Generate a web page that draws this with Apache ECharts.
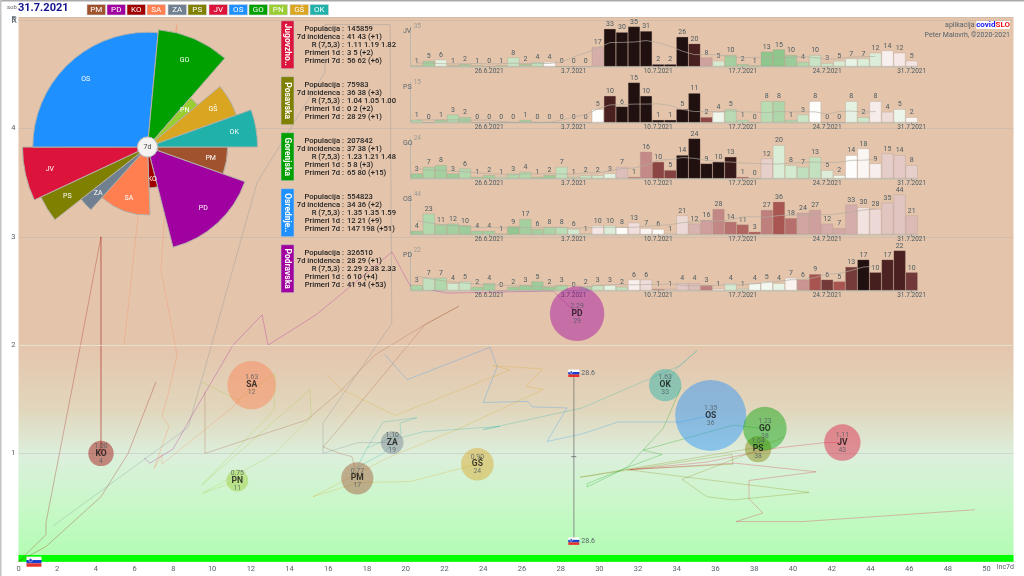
<!DOCTYPE html>
<html><head><meta charset="utf-8">
<script src="https://cdn.jsdelivr.net/npm/echarts@6/dist/echarts.min.js"></script>
<style>html,body{margin:0;padding:0;background:#fff}#main{width:1024px;height:576px}</style>
</head><body><div id="main"></div>
<script>
// ---------- data ----------
const regionCodes = ['PM','PD','KO','SA','ZA','PS','JV','OS','GO','PN','GŠ','OK'];
const regionColors = ['#a0522d','#a0009f','#a00000','#ff7f50','#708090','#808000','#dc143c','#1e90ff','#00a000','#9acd32','#daa520','#20b2aa'];
const populations = [114000,326510,70700,257000,57000,75983,145859,554823,207842,52800,117000,115000];
const incidence = [17,29,4,12,19,38,43,36,38,11,24,33];
const bubbleX = [17.5,28.85,4.26,12.04,19.3,38.2,42.55,35.75,38.55,11.3,23.7,33.4];
const bubbleR = [0.77,2.29,1.00,1.63,1.10,1.04,1.10,1.35,1.23,0.75,0.90,1.63];
const bubbleRText = ['0.77','2.29','1.00','1.63','1.10','1.04','1.11','1.35','1.23','0.75','0.90','1.63'];

const trailPM = [[9.63,1.57],[9.63,1.00],[14.9,1.31],[16.6,1.57],[18.41,1.91],[21.0,2.19],[22.75,2.36],[21.0,2.19],[16.6,1.24],[15.73,1.06],[16.6,1.00],[17.22,0.97],[17.53,0.76]];
const trailPD = [[6.48,0.96],[6.79,0.91],[7.98,1.04],[8.96,1.35],[11.08,2.00],[12.58,2.28],[12.89,2.00],[15.37,2.28],[19.29,2.86],[20.22,2.55],[22.13,2.48],[27.61,2.50],[28.85,2.29]];
const trailKO = [[7.10,1.66],[5.66,1.00],[4.26,0.60],[1.42,0.14],[0,0],[1.42,0.25],[1.42,0.36],[3.18,1.98],[4.26,3.00],[4.26,1.00]];
const trailKOlast = [[4.26,3.00],[4.26,1.00]];
const trailSA = [[5.45,2.0],[6.17,3.18],[8.19,4.96],[7.46,2.97],[7.36,2.69],[8.19,1.91],[7.72,1.54],[7.41,1.35],[7.77,1.25],[7.0,0.86],[7.41,0.99],[7.41,0.90],[11.08,1.43],[12.04,1.63]];
const trailZA = [[1.78,0.33],[8.76,1.24],[9.89,1.95],[12.32,3.50],[15.83,4.52],[15.83,4.96],[19.19,4.96],[19.28,2.20],[15.73,1.28],[15.73,1.00],[17.53,1.10],[19.3,1.10]];
const trailPS = [[39.54,1.15],[38.3,1.06],[29.0,0.78],[36.85,0.99],[36.9,0.90],[31.43,0.85],[40.83,0.64],[36.9,0.57],[35.56,0.60],[34.27,0.76],[38.15,1.03]];
const trailJV = [[49.4,0.48],[40.47,0.37],[37.06,0.37],[38.45,0.45],[37.73,0.58],[37.73,0.75],[41.2,0.83],[37.0,0.91],[31.58,0.85],[35.56,0.92],[39.18,1.05],[41.66,1.10],[42.56,1.10]];
const trailOS = [[18.93,1.91],[20.07,1.68],[24.35,1.98],[24.72,1.80],[24.0,1.47],[26.32,1.48],[26.52,1.43],[28.33,1.42],[27.3,1.11],[29.1,1.18],[30.96,1.29],[34.17,1.29],[35.75,1.35]];
const trailGO = [[34.22,1.61],[33.29,1.23],[31.43,0.87],[29.37,0.69],[29.37,0.72],[31.43,0.87],[33.24,0.99],[32.26,1.03],[36.9,1.26],[37.42,1.25],[38.53,1.23]];
const trailPN = [[9.48,1.66],[11.34,1.49],[13.25,1.74],[13.2,1.40],[9.48,0.71],[15.06,1.59],[15.11,1.33],[13.25,1.0],[9.48,0.63],[11.34,0.75]];
const trailGS = [[15.98,1.72],[16.6,1.60],[19.45,1.35],[25.39,1.77],[24.51,1.81],[27.09,1.78],[26.21,1.62],[27.09,1.59],[22.65,1.22],[19.19,0.97],[15.21,0.60],[17.54,0.73],[20.22,0.74],[23.68,0.90]];
const trailOK = [[18.0,1.05],[18.83,1.29],[20.58,1.33],[19.7,1.28],[19.76,1.18],[18.0,1.05],[17.48,0.87],[18.83,1.0],[19.6,1.14],[20.9,1.2],[24.87,1.25],[24.0,1.22],[29.1,1.42],[34.17,1.81],[35.05,1.95],[34.01,1.79],[33.4,1.62]];
const sloPoints = [[28.68,1.74],[28.68,0.97],[28.68,0.19]];
const sloFlagsTop = [[28.68,1.74],[28.68,0.19]];
const sloFlagAxis = [[0.8,0]];
const sloLabel = '28.6';

const dayLabels = ['20.6.2021','21.6.2021','22.6.2021','23.6.2021','24.6.2021','25.6.2021','26.6.2021','27.6.2021','28.6.2021','29.6.2021','30.6.2021','1.7.2021','2.7.2021','3.7.2021','4.7.2021','5.7.2021','6.7.2021','7.7.2021','8.7.2021','9.7.2021','10.7.2021','11.7.2021','12.7.2021','13.7.2021','14.7.2021','15.7.2021','16.7.2021','17.7.2021','18.7.2021','19.7.2021','20.7.2021','21.7.2021','22.7.2021','23.7.2021','24.7.2021','25.7.2021','26.7.2021','27.7.2021','28.7.2021','29.7.2021','30.7.2021','31.7.2021'];

const casesJV = [1,5,6,1,2,1,0,1,8,2,4,4,0,0,0,17,33,30,35,31,2,2,26,20,8,5,10,2,1,13,15,10,4,10,3,5,7,7,12,14,12,5];
const casesPS = [1,0,1,3,2,0,0,0,0,1,0,0,0,0,0,5,10,6,15,10,1,1,5,11,2,4,5,1,0,8,8,1,3,8,0,0,8,2,8,4,5,2];
const casesGO = [3,7,8,3,6,1,2,1,3,4,1,2,7,1,2,2,3,7,1,16,10,5,14,24,9,10,13,1,0,12,20,8,7,13,5,2,14,18,9,15,14,8];
const casesOS = [4,23,11,12,10,4,4,1,9,17,6,8,8,6,1,10,10,8,13,7,6,1,21,12,16,28,14,11,3,27,36,18,24,27,12,7,33,30,28,35,44,21];
const casesPD = [3,7,7,4,5,2,4,0,2,3,5,2,3,0,2,3,3,2,6,6,1,1,4,4,3,1,4,1,4,5,4,7,6,9,6,5,13,17,10,17,22,10];

const trendJV = [3,3,2.5,2.3,2.3,2.7,2.1,2.6,2.9,2.7,2.7,2.6,3.9,8.3,12,16.4,20.9,21.1,21.4,22.7,20.9,17.7,13.4,10.4,10.4,10.3,8.4,7.7,8,7.9,7.9,8,8.6,7.7,6.6,6.9,8.3,8.6,8.9];
const trendPS = [1,1,1,1,0.9,0.9,0.9,0.4,0.1,0.1,0.1,0.1,0.9,2.1,3,5.1,6.6,6.7,6.9,6.9,7,6.4,4.9,4.1,4.1,4,4.4,4,3.9,3.7,4.1,4,4,4,3.1,4.1,4.3,3.9,4.1];
const trendGO = [6,5,5,4.3,4,3.4,2.9,2.6,2,2.9,2.7,2.9,2.7,2.6,3.4,3.3,4.6,5.9,6.3,8,11,11.3,12.6,12.1,10.9,10.1,9.9,9.3,9.1,8.7,8.7,9.3,9.6,9.9,9.6,9.7,10.9,11,11.4];
const trendOS = [15,13,11,9.7,9.3,7.3,8.1,7.3,7,7.6,7.9,7.9,8,7,7.3,8,7.9,7.9,7.9,9.4,9.7,10.9,13,14,14.7,15,15.9,19.3,19.6,19,20.9,21,21.6,22.4,21.6,23,24.6,27,28.3];
const trendPD = [8,6.5,5.5,4.6,4.1,3.4,2.9,3,2.6,2.7,2.1,2.4,2.6,2.6,2.1,2.7,3.1,3.3,3.1,3.3,3.4,3.6,2.9,2.6,2.6,3,3.1,3.1,3.7,4.4,5.1,5.9,6,7.1,9,9.4,11,12.9,13.4];

// 7-day growth ratio of the first 13 days (their history lies outside the chart)
const earlyRJV = [.6,.5,.9,.5,.5,.5,.5,.5,.75,.5,.7,1,1];
const earlyRPS = [.6,.6,.5,.6,.5,.5,.5,.5,.5,.5,.5,.5,.5];
const earlyRGO = [.45,.55,.5,.45,.6,.5,.5,.7,.6,.6,.5,.45,.7];
const earlyROS = [.45,.6,.5,.5,.45,.5,.5,.5,.4,.5,.5,.55,.65];
const earlyRPD = [.55,.7,.6,.8,.75,.5,.5,.5,.45,.45,.45,.45,.55];

const panelCodes = ['JV','PS','GO','OS','PD'];
const panelNames = ['Jugovzho..','Posavska','Gorenjska','Osrednje..','Podravska'];
const panelColors = ['#dc143c','#808000','#00a000','#1e90ff','#a0009f'];
const panelMax = [35,15,24,44,22];
const panelCases = [casesJV,casesPS,casesGO,casesOS,casesPD];
const panelTrend = [trendJV,trendPS,trendGO,trendOS,trendPD];
const panelEarly = [earlyRJV,earlyRPS,earlyRGO,earlyROS,earlyRPD];
const infoLabels = ['Populacija','7d incidenca','R (7,5,3)','Primeri 1d','Primeri 7d'];
const infoJV = ['145859','41 43 (+1)','1.11 1.19 1.82','3 5 (+2)','56 62 (+6)'];
const infoPS = ['75983','36 38 (+3)','1.04 1.05 1.00','0 2 (+2)','28 29 (+1)'];
const infoGO = ['207842','37 38 (+1)','1.23 1.21 1.48','5 8 (+3)','65 80 (+15)'];
const infoOS = ['554823','34 36 (+2)','1.35 1.35 1.59','12 21 (+9)','147 198 (+51)'];
const infoPD = ['326510','28 29 (+1)','2.29 2.38 2.33','6 10 (+4)','41 94 (+53)'];
const panelInfo = [infoJV,infoPS,infoGO,infoOS,infoPD];
const trails = [trailPM,trailPD,trailKO,trailSA,trailZA,trailPS,trailJV,trailOS,trailGO,trailPN,trailGS,trailOK];

// ---------- drawing ----------
const FONT = 'Roboto, sans-serif';
const chart = echarts.init(document.getElementById('main'), null, {renderer:'canvas'});
const colorStops = [[0.3,[130,192,130]],[0.5,[164,208,160]],[0.75,[200,228,196]],[0.9,[228,242,226]],[1.0,[253,253,251]],[1.1,[244,230,228]],[1.3,[224,196,192]],[1.6,[196,138,136]],[2.0,[168,84,80]],[2.3,[112,56,56]],[2.5,[74,32,32]],[2.85,[32,16,16]]];
function ratioColor(r){
  if(r<=colorStops[0][0]) return 'rgb('+colorStops[0][1].join(',')+')';
  for(let i=1;i<colorStops.length;i++){
    if(r<=colorStops[i][0]){
      const a=colorStops[i-1],b=colorStops[i],t=(r-a[0])/(b[0]-a[0]);
      return 'rgb('+a[1].map((v,k)=>Math.round(v+(b[1][k]-v)*t)).join(',')+')';
    }
  }
  return 'rgb(32,16,16)';
}
function weekRatio(vals,early,i){
  if(i<13) return early[i];
  let s=0,p=0;
  for(let k=0;k<7;k++){s+=vals[i-k];p+=vals[i-7-k];}
  if(p===0) return s>0?5:1;
  return s/p;
}
function withAlpha(hex,a){
  const n=parseInt(hex.slice(1),16);
  return 'rgba('+(n>>16)+','+((n>>8)&255)+','+(n&255)+','+a+')';
}

const total = populations.reduce((a,b)=>a+b,0);
let acc = 0;
const sectorData = regionCodes.map((c,i)=>{const d=[Math.sqrt(incidence[i]),acc,acc+populations[i]];acc+=populations[i];return d;});

const grids = [{left:18.5,right:10.5,top:17,bottom:14.3,show:true,borderWidth:0,
  backgroundColor:new echarts.graphic.LinearGradient(0,0,0,1,[
    {offset:0,color:'#e4c4ab'},{offset:0.60,color:'#e4c5ac'},{offset:0.72,color:'#e1d6bc'},{offset:0.805,color:'#dcefdc'},{offset:0.9,color:'#c8f8c8'},{offset:1,color:'#b0fcb0'}])}];
const xAxes = [{type:'value',gridIndex:0,min:0,max:51.39,interval:2,
  axisLine:{show:false},axisTick:{show:false},splitLine:{show:false},
  axisLabel:{fontFamily:FONT,fontSize:7.5,color:'#56626a',margin:3,showMaxLabel:false}}];
const yAxes = [{type:'value',gridIndex:0,min:0,max:5.03,interval:1,
  axisLine:{show:false},axisTick:{show:false},
  splitLine:{show:true,lineStyle:{color:'rgba(170,170,170,0.3)',width:1}},
  axisLabel:{fontFamily:FONT,fontSize:7.5,color:'#56626a',margin:3,showMaxLabel:false,showMinLabel:false}}];
const series = [];

// trails
trails.forEach((t,i)=>series.push({name:'trail '+regionCodes[i],type:'line',xAxisIndex:0,yAxisIndex:0,data:t,symbol:'none',silent:true,z:2,
  lineStyle:{color:regionColors[i],width:0.9,opacity:0.3}}));
series.push({name:'trail KO last',type:'line',xAxisIndex:0,yAxisIndex:0,data:trailKOlast,symbol:'none',silent:true,z:2,lineStyle:{color:regionColors[2],width:2,opacity:0.15}});

// Slovenia marker line + the green zero band + the lighter R=2 line
series.push({name:'SLO',type:'line',xAxisIndex:0,yAxisIndex:0,silent:true,z:3,
  data:sloPoints.map((p,i)=>i===1?{value:p,symbol:'rect',symbolSize:[5,1]}:{value:p,symbol:'none'}),
  itemStyle:{color:'#777'},lineStyle:{color:'rgba(120,120,120,0.5)',width:1.6},
  markLine:{silent:true,symbol:'none',label:{show:false},lineStyle:{color:'rgba(232,228,208,0.9)',width:1,type:'solid'},data:[{yAxis:2}]},
  markArea:{silent:true,itemStyle:{color:'#00ff00',opacity:1},data:[[{yAxis:0},{yAxis:0.062}]]}});
function flagRender(w,h,withText){
  return function(params,api){
    const p=api.coord([api.value(0),api.value(1)]);
    const x=p[0]-w/2,y=p[1]-h/2,b=h/3;
    const kids=[
      {type:'rect',shape:{x:x,y:y,width:w,height:b},style:{fill:'#ffffff'}},
      {type:'rect',shape:{x:x,y:y+b,width:w,height:b},style:{fill:'#1a3fd0'}},
      {type:'rect',shape:{x:x,y:y+2*b,width:w,height:b},style:{fill:'#e8302a'}},
      {type:'circle',shape:{cx:x+w*0.27,cy:y+h*0.36,r:h*0.17},style:{fill:'#2040c0',stroke:'#fff',lineWidth:0.5}}];
    if(withText) kids.push({type:'text',style:{x:x+w+2,y:p[1],text:sloLabel,fontFamily:FONT,fontSize:7,fill:'#56626a',verticalAlign:'middle'}});
    return {type:'group',children:kids};
  };
}
series.push({name:'SLO flags',type:'custom',xAxisIndex:0,yAxisIndex:0,coordinateSystem:'cartesian2d',data:sloFlagsTop,silent:true,z:6,clip:false,renderItem:flagRender(11,7.5,true)});
series.push({name:'SLO flag axis',type:'custom',xAxisIndex:0,yAxisIndex:0,coordinateSystem:'cartesian2d',data:sloFlagAxis,silent:true,z:6,clip:false,renderItem:flagRender(15,10,false)});

// bubbles
series.push({name:'regions',type:'scatter',xAxisIndex:0,yAxisIndex:0,z:4,silent:true,
  data:regionCodes.map((c,i)=>({value:[bubbleX[i],bubbleR[i]],name:c,
    symbolSize:2*0.0477*Math.sqrt(populations[i]),
    itemStyle:{color:withAlpha(regionColors[i],0.55)},
    label:{show:true,position:'inside',
      formatter:'{a|'+bubbleRText[i]+'}\n{b|'+c+'}\n{a|'+incidence[i]+'}',
      rich:{a:{fontFamily:FONT,fontSize:6.8,color:'#4c5a60',lineHeight:7.4,align:'center'},
            b:{fontFamily:FONT,fontSize:8.5,fontWeight:'bold',color:'#111',lineHeight:7.4,align:'center'}}}}))});

// rose of regions: angle = population, radius = sqrt(incidence)
const polar = {center:[147.5,147],radius:[4.2,125]};
const angleAxis = {type:'value',min:0,max:total,startAngle:0,clockwise:true,show:false};
const radiusAxis = {type:'value',min:0,max:Math.sqrt(43),show:false};
series.push({name:'rose',type:'custom',coordinateSystem:'polar',data:sectorData,silent:true,z:10,clip:false,
  encode:{radius:0,angle:1},
  renderItem:function(params,api){
    const cs=params.coordSys, c0=api.coord([api.value(0),api.value(1)]);
    const r=Math.hypot(c0[0]-cs.cx,c0[1]-cs.cy);
    const a0=2*Math.PI*api.value(1)/total, a1=2*Math.PI*api.value(2)/total, m=(a0+a1)/2;
    return {type:'group',children:[
      {type:'sector',shape:{cx:cs.cx,cy:cs.cy,r0:10,r:r,startAngle:a0,endAngle:a1,clockwise:true},
        style:{fill:regionColors[params.dataIndex],stroke:'#b4b0a8',lineWidth:1}},
      {type:'text',style:{x:cs.cx+0.8*r*Math.cos(m),y:cs.cy+0.8*r*Math.sin(m),text:regionCodes[params.dataIndex],
        fontFamily:FONT,fontSize:7,fill:'#fff',align:'center',verticalAlign:'middle'}}]};
  }});

// five case panels
panelCodes.forEach((code,k)=>{
  const g=k+1, vals=panelCases[k], early=panelEarly[k];
  grids.push({left:410.7,width:507,top:26.5+56*k,height:40,show:false});
  xAxes.push({type:'category',gridIndex:g,data:dayLabels,boundaryGap:true,
    axisLine:{show:true,lineStyle:{color:'#c8c2b4',width:1.5}},
    axisTick:{show:true,length:2,alignWithLabel:true,interval:(i)=>i%7===6,lineStyle:{color:'#888'}},
    axisLabel:{show:true,interval:(i)=>i%7===6,fontFamily:FONT,fontSize:6.5,color:'#4c5a60',margin:1.5,hideOverlap:false}});
  yAxes.push({type:'value',gridIndex:g,min:0,max:panelMax[k],
    axisLine:{show:true,lineStyle:{color:'#bdb7ab',width:1}},axisTick:{show:false},splitLine:{show:false},
    axisLabel:{show:true,inside:true,customValues:[panelMax[k]],fontFamily:FONT,fontSize:6.5,color:'#9a9a94',margin:3}});
  series.push({name:'primeri '+code,type:'bar',xAxisIndex:g,yAxisIndex:g,barCategoryGap:'0%',z:3,silent:true,
    data:vals.map((v,i)=>({value:v,itemStyle:{color:ratioColor(weekRatio(vals,early,i)),borderColor:'rgba(150,130,120,0.35)',borderWidth:0.6}})),
    label:{show:true,position:'top',distance:1,fontFamily:FONT,fontSize:7,color:'#4c5a60'}});
  series.push({name:'povprečje '+code,type:'line',xAxisIndex:g,yAxisIndex:g,data:panelTrend[k],symbol:'none',z:4,silent:true,
    lineStyle:{color:'rgba(178,172,160,0.65)',width:1}});
});

// text and chips
const gr = [];
const Z = 50;
gr.push({type:'rect',z:Z,silent:true,shape:{x:0,y:0,width:1024,height:1.5},style:{fill:'#aaaaaa'}});
gr.push({type:'rect',z:Z,silent:true,shape:{x:0,y:0,width:1.5,height:576},style:{fill:'#c4c4c4'}});
gr.push({type:'text',z:Z,silent:true,x:7,y:4,style:{text:'sob',fontFamily:FONT,fontSize:6,fill:'#666'}});
gr.push({type:'text',z:Z,silent:true,x:18,y:3,style:{text:'31.7.2021',fontFamily:FONT,fontSize:11,fontWeight:'bold',fill:'#14148c',shadowColor:'#6a80e0',shadowBlur:2}});
const chipX=[87,107,127,147,168,188,209,229,249,269,290,310];
regionCodes.forEach((c,i)=>{
  gr.push({type:'rect',z:Z,silent:true,shape:{x:chipX[i],y:4.5,width:18.5,height:10.5},style:{fill:regionColors[i],stroke:'#d4d4d4',lineWidth:0.6}});
  gr.push({type:'text',z:Z+1,silent:true,x:chipX[i]+9.25,y:10,style:{text:c,fontFamily:FONT,fontSize:8,fill:'#fff',align:'center',verticalAlign:'middle'}});
});
gr.push({type:'circle',z:Z,silent:true,shape:{cx:147.5,cy:147,r:10},style:{fill:'#f4f3f1',stroke:'#bdbdbd',lineWidth:1}});
gr.push({type:'text',z:Z+1,silent:true,x:147.5,y:147,style:{text:'7d',fontFamily:FONT,fontSize:7,fill:'#444',align:'center',verticalAlign:'middle'}});
panelCodes.forEach((code,k)=>{
  const top=20.7+56*k;
  gr.push({type:'rect',z:Z,silent:true,shape:{x:281,y:top,width:13,height:48},style:{fill:panelColors[k],stroke:'#c8c8c8',lineWidth:0.6}});
  gr.push({type:'text',z:Z+1,silent:true,x:287.5,y:top+24,rotation:-Math.PI/2,style:{text:panelNames[k],fontFamily:FONT,fontSize:8.5,fontWeight:'bold',fill:'#fff',align:'center',verticalAlign:'middle'}});
  infoLabels.forEach((lab,r)=>{
    const y=29.3+56*k+8*r;
    gr.push({type:'text',z:Z,silent:true,x:340,y:y,style:{text:lab,fontFamily:FONT,fontSize:7.6,fontWeight:500,fill:'#222',align:'right',verticalAlign:'middle'}});
    gr.push({type:'text',z:Z,silent:true,x:342,y:y,style:{text:':',fontFamily:FONT,fontSize:7.6,fontWeight:500,fill:'#222',verticalAlign:'middle'}});
    gr.push({type:'text',z:Z,silent:true,x:347,y:y,style:{text:panelInfo[k][r],fontFamily:FONT,fontSize:7.6,fontWeight:500,fill:'#222',verticalAlign:'middle'}});
  });
  gr.push({type:'text',z:Z,silent:true,x:403,y:31+56*k,style:{text:code,fontFamily:FONT,fontSize:7,fill:'#5a666c',verticalAlign:'middle'}});
});
gr.push({type:'text',z:Z,silent:true,x:1010,y:25,style:{rich:{a:{fontFamily:FONT,fontSize:7,fill:'#56626a'},b:{fontFamily:FONT,fontSize:8,fontWeight:'bold',fill:'#1414f0',backgroundColor:'#ffffff'},c:{fontFamily:FONT,fontSize:8,fontWeight:'bold',fill:'#f01414',backgroundColor:'#ffffff'}},text:'{a|aplikacija }{b|covid}{c|SLO}',align:'right',verticalAlign:'middle'}});
gr.push({type:'text',z:Z,silent:true,x:1010,y:35,style:{text:'Peter Malovrh, ©2020-2021',fontFamily:FONT,fontSize:7,fill:'#56626a',align:'right',verticalAlign:'middle'}});
gr.push({type:'text',z:Z,silent:true,x:14,y:21,style:{text:'R',fontFamily:FONT,fontSize:8.5,fill:'#56626a',align:'center',verticalAlign:'middle'}});
gr.push({type:'text',z:Z,silent:true,x:1014,y:567.5,style:{text:'Inc7d',fontFamily:FONT,fontSize:7,fill:'#56626a',align:'right',verticalAlign:'middle'}});

chart.setOption({animation:false,backgroundColor:'#ffffff',textStyle:{fontFamily:FONT},
  grid:grids,xAxis:xAxes,yAxis:yAxes,polar:polar,angleAxis:angleAxis,radiusAxis:radiusAxis,series:series,graphic:{elements:gr}});
</script></body></html>
